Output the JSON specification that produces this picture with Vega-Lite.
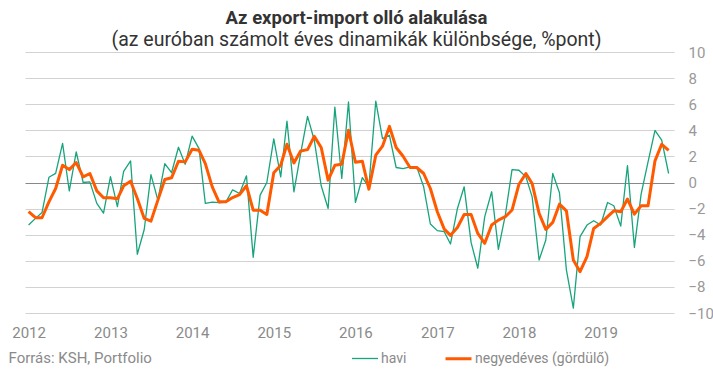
{
  "$schema": "https://vega.github.io/schema/vega-lite/v6.json",
  "width": 649,
  "height": 261,
  "autosize": "none",
  "padding": {"left": 25, "top": 52, "right": 39, "bottom": 57},
  "background": "white",
  "title": {
    "text": "Az export-import olló alakulása",
    "subtitle": "(az euróban számolt éves dinamikák különbsége, %pont)",
    "anchor": "middle",
    "frame": "group",
    "dx": 7,
    "offset": -4,
    "font": "Roboto",
    "fontSize": 18.5,
    "fontWeight": "bold",
    "color": "#333333",
    "subtitleFont": "Roboto",
    "subtitleFontSize": 19.5,
    "subtitleColor": "#333333",
    "subtitlePadding": 3
  },
  "data": {
    "values": [
      {"d": "2012-01", "havi": -3.26, "negy": -2.24},
      {"d": "2012-02", "havi": -2.75, "negy": -2.70},
      {"d": "2012-03", "havi": -2.30, "negy": -2.70},
      {"d": "2012-04", "havi": 0.40, "negy": -1.48},
      {"d": "2012-05", "havi": 0.70, "negy": -0.46},
      {"d": "2012-06", "havi": 3.00, "negy": 1.32},
      {"d": "2012-07", "havi": -0.65, "negy": 0.99},
      {"d": "2012-08", "havi": 2.35, "negy": 1.53},
      {"d": "2012-09", "havi": 0.00, "negy": 0.43},
      {"d": "2012-10", "havi": 0.05, "negy": 0.69},
      {"d": "2012-11", "havi": -1.60, "negy": -0.64},
      {"d": "2012-12", "havi": -2.35, "negy": -1.17},
      {"d": "2013-01", "havi": 0.45, "negy": -1.17},
      {"d": "2013-02", "havi": -1.85, "negy": -1.25},
      {"d": "2013-03", "havi": 0.85, "negy": -0.25},
      {"d": "2013-04", "havi": 1.65, "negy": 0.10},
      {"d": "2013-05", "havi": -5.50, "negy": -1.22},
      {"d": "2013-06", "havi": -3.60, "negy": -2.75},
      {"d": "2013-07", "havi": 0.60, "negy": -2.96},
      {"d": "2013-08", "havi": -1.35, "negy": -1.35},
      {"d": "2013-09", "havi": 1.45, "negy": 0.23},
      {"d": "2013-10", "havi": 0.75, "negy": 0.36},
      {"d": "2013-11", "havi": 2.70, "negy": 1.63},
      {"d": "2013-12", "havi": 1.40, "negy": 1.58},
      {"d": "2014-01", "havi": 3.55, "negy": 2.55},
      {"d": "2014-02", "havi": 2.60, "negy": 2.47},
      {"d": "2014-03", "havi": -1.60, "negy": 1.45},
      {"d": "2014-04", "havi": -1.50, "negy": -0.33},
      {"d": "2014-05", "havi": -1.55, "negy": -1.48},
      {"d": "2014-06", "havi": -1.50, "negy": -1.48},
      {"d": "2014-07", "havi": -0.56, "negy": -1.15},
      {"d": "2014-08", "havi": -0.84, "negy": -0.92},
      {"d": "2014-09", "havi": 0.51, "negy": -0.25},
      {"d": "2014-10", "havi": -5.73, "negy": -2.12},
      {"d": "2014-11", "havi": -0.97, "negy": -2.12},
      {"d": "2014-12", "havi": 0.00, "negy": -2.45},
      {"d": "2015-01", "havi": 3.34, "negy": 0.74},
      {"d": "2015-02", "havi": 0.43, "negy": 1.32},
      {"d": "2015-03", "havi": 4.71, "negy": 2.93},
      {"d": "2015-04", "havi": -0.71, "negy": 1.50},
      {"d": "2015-05", "havi": 2.22, "negy": 2.42},
      {"d": "2015-06", "havi": 5.07, "negy": 2.52},
      {"d": "2015-07", "havi": 3.24, "negy": 3.54},
      {"d": "2015-08", "havi": -0.25, "negy": 2.68},
      {"d": "2015-09", "havi": -1.99, "negy": 0.18},
      {"d": "2015-10", "havi": 5.78, "negy": 1.32},
      {"d": "2015-11", "havi": 0.31, "negy": 1.40},
      {"d": "2015-12", "havi": 6.17, "negy": 4.00},
      {"d": "2016-01", "havi": -1.53, "negy": 1.55},
      {"d": "2016-02", "havi": 0.38, "negy": 1.63},
      {"d": "2016-03", "havi": -0.33, "negy": -0.51},
      {"d": "2016-04", "havi": 6.24, "negy": 2.09},
      {"d": "2016-05", "havi": 3.36, "negy": 2.78},
      {"d": "2016-06", "havi": 3.62, "negy": 4.30},
      {"d": "2016-07", "havi": 1.15, "negy": 2.68},
      {"d": "2016-08", "havi": 1.07, "negy": 2.01},
      {"d": "2016-09", "havi": 1.20, "negy": 1.15},
      {"d": "2016-10", "havi": 1.20, "negy": 1.15},
      {"d": "2016-11", "havi": -0.33, "negy": 0.69},
      {"d": "2016-12", "havi": -3.18, "negy": -0.46},
      {"d": "2017-01", "havi": -3.69, "negy": -2.24},
      {"d": "2017-02", "havi": -3.77, "negy": -3.57},
      {"d": "2017-03", "havi": -4.71, "negy": -4.05},
      {"d": "2017-04", "havi": -1.99, "negy": -3.45},
      {"d": "2017-05", "havi": -0.33, "negy": -2.45},
      {"d": "2017-06", "havi": -4.59, "negy": -2.45},
      {"d": "2017-07", "havi": -6.57, "negy": -3.90},
      {"d": "2017-08", "havi": -2.62, "negy": -4.66},
      {"d": "2017-09", "havi": -0.71, "negy": -3.26},
      {"d": "2017-10", "havi": -5.12, "negy": -2.88},
      {"d": "2017-11", "havi": -2.50, "negy": -2.62},
      {"d": "2017-12", "havi": 0.99, "negy": -2.11},
      {"d": "2018-01", "havi": 0.94, "negy": -0.13},
      {"d": "2018-02", "havi": 0.43, "negy": 0.69},
      {"d": "2018-03", "havi": -1.10, "negy": -0.08},
      {"d": "2018-04", "havi": -5.94, "negy": -2.37},
      {"d": "2018-05", "havi": -4.41, "negy": -3.59},
      {"d": "2018-06", "havi": 0.69, "negy": -3.06},
      {"d": "2018-07", "havi": -0.79, "negy": -1.66},
      {"d": "2018-08", "havi": -6.70, "negy": -2.17},
      {"d": "2018-09", "havi": -9.63, "negy": -5.94},
      {"d": "2018-10", "havi": -4.15, "negy": -6.83},
      {"d": "2018-11", "havi": -3.26, "negy": -5.68},
      {"d": "2018-12", "havi": -2.93, "negy": -3.52},
      {"d": "2019-01", "havi": -3.26, "negy": -3.13},
      {"d": "2019-02", "havi": -1.53, "negy": -2.62},
      {"d": "2019-03", "havi": -1.78, "negy": -2.17},
      {"d": "2019-04", "havi": -3.34, "negy": -2.24},
      {"d": "2019-05", "havi": 1.30, "negy": -1.27},
      {"d": "2019-06", "havi": -4.97, "negy": -2.42},
      {"d": "2019-07", "havi": -0.89, "negy": -1.78},
      {"d": "2019-08", "havi": 1.58, "negy": -1.78},
      {"d": "2019-09", "havi": 4.00, "negy": 1.66},
      {"d": "2019-10", "havi": 3.24, "negy": 2.93},
      {"d": "2019-11", "havi": 0.69, "negy": 2.47}
    ],
    "format": {"parse": {"d": "utc:'%Y-%m'"}}
  },
  "transform": [
    {"fold": ["havi", "negy"], "as": ["key", "value"]},
    {"lookup": "key", "from": {"data": {"values": [{"key": "havi", "series": "havi"}, {"key": "negy", "series": "negyedéves (gördülő)"}]}, "key": "key", "fields": ["series"]}}
  ],
  "mark": {"type": "line", "strokeJoin": "round", "strokeCap": "butt"},
  "encoding": {
    "x": {
      "field": "d",
      "type": "temporal",
      "scale": {"type": "utc", "domain": ["2011-12-16", "2019-11-25"]},
      "axis": {
        "format": "%Y",
        "tickCount": {"interval": "year", "step": 1},
        "grid": false,
        "ticks": false,
        "domain": false,
        "labelFont": "Roboto",
        "labelFontSize": 15,
        "labelColor": "#8a8a8a",
        "labelPadding": 12,
        "labelFlush": false,
        "title": "Forrás: KSH, Portfolio",
        "titleFont": "Roboto",
        "titleFontSize": 15,
        "titleFontWeight": "normal",
        "titleColor": "#8a8a8a",
        "titleAnchor": "start",
        "titleAlign": "left",
        "titleBaseline": "middle",
        "titleX": -17,
        "titleY": 44
      }
    },
    "y": {
      "field": "value",
      "type": "quantitative",
      "scale": {"domain": [-10, 10], "nice": false, "zero": false},
      "axis": {
        "orient": "right",
        "values": [-10, -8, -6, -4, -2, 0, 2, 4, 6, 8, 10],
        "title": null,
        "ticks": false,
        "domain": false,
        "labelAlign": "left",
        "labelPadding": 14,
        "labelFont": "Roboto",
        "labelFontSize": 15,
        "labelColor": "#999999",
        "gridColor": {"condition": {"test": "datum.value === 0", "value": "#888888"}, "value": "#d2d2d2"},
        "gridWidth": 1
      }
    },
    "color": {
      "field": "series",
      "type": "nominal",
      "scale": {"domain": ["havi", "negyedéves (gördülő)"], "range": ["#17a47c", "#ff5a00"]},
      "legend": {
        "orient": "none",
        "legendX": 326,
        "legendY": 292,
        "direction": "horizontal",
        "title": null,
        "symbolType": "stroke",
        "symbolSize": 676,
        "symbolStrokeWidth": 2.5,
        "labelFont": "Roboto",
        "labelFontSize": 14,
        "labelColor": "#8a8a8a",
        "labelOffset": 2,
        "columnPadding": 32
      }
    },
    "strokeWidth": {
      "field": "series",
      "type": "nominal",
      "scale": {"domain": ["havi", "negyedéves (gördülő)"], "range": [1.3, 3]},
      "legend": null
    }
  },
  "config": {
    "view": {"stroke": null}
  }
}
